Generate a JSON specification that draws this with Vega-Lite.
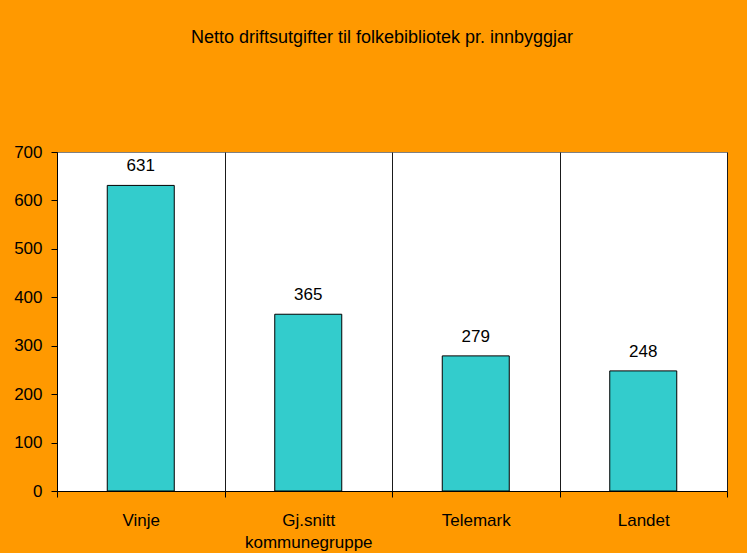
{
  "$schema": "https://vega.github.io/schema/vega-lite/v6.json",
  "autosize": "none",
  "width": 670,
  "height": 339,
  "padding": {"left": 57, "top": 152, "right": 20, "bottom": 62},
  "background": "#FF9900",
  "config": {
    "font": "Liberation Sans",
    "view": {"fill": "white", "stroke": "#808080", "strokeWidth": 1}
  },
  "title": {
    "text": "Netto driftsutgifter til folkebibliotek pr. innbyggjar",
    "font": "Liberation Sans",
    "fontSize": 18,
    "fontWeight": "normal",
    "color": "#000000",
    "anchor": "middle",
    "baseline": "alphabetic",
    "offset": 82,
    "dx": -10
  },
  "data": {
    "values": [
      {"region": "Vinje", "value": 631},
      {"region": "Gj.snitt kommunegruppe", "value": 365},
      {"region": "Telemark", "value": 279},
      {"region": "Landet", "value": 248}
    ]
  },
  "encoding": {
    "x": {
      "field": "region",
      "type": "nominal",
      "sort": null,
      "scale": {"paddingInner": 0, "paddingOuter": 0},
      "axis": {
        "title": null,
        "labelAngle": 0,
        "tickBand": "extent",
        "grid": true,
        "gridColor": "#1a1a1a",
        "gridOpacity": 1,
        "domainColor": "#000000",
        "tickColor": "#000000",
        "tickSize": 6,
        "labelFontSize": 17,
        "labelColor": "#000000",
        "labelPadding": 15,
        "labelExpr": "split(datum.label, ' ')",
        "labelLineHeight": 22
      }
    },
    "y": {
      "field": "value",
      "type": "quantitative",
      "scale": {"domain": [0, 700], "nice": false},
      "axis": {
        "title": null,
        "values": [0, 100, 200, 300, 400, 500, 600, 700],
        "grid": false,
        "domainColor": "#000000",
        "tickColor": "#000000",
        "tickSize": 6,
        "labelFontSize": 17,
        "labelColor": "#000000",
        "labelPadding": 9
      }
    }
  },
  "layer": [
    {
      "mark": {
        "type": "bar",
        "fill": "#33CCCC",
        "stroke": "#000000",
        "strokeWidth": 1,
        "width": {"band": 0.4}
      }
    },
    {
      "mark": {
        "type": "text",
        "baseline": "alphabetic",
        "dy": -14,
        "fontSize": 17,
        "color": "#000000"
      },
      "encoding": {"text": {"field": "value", "type": "quantitative"}}
    }
  ]
}
